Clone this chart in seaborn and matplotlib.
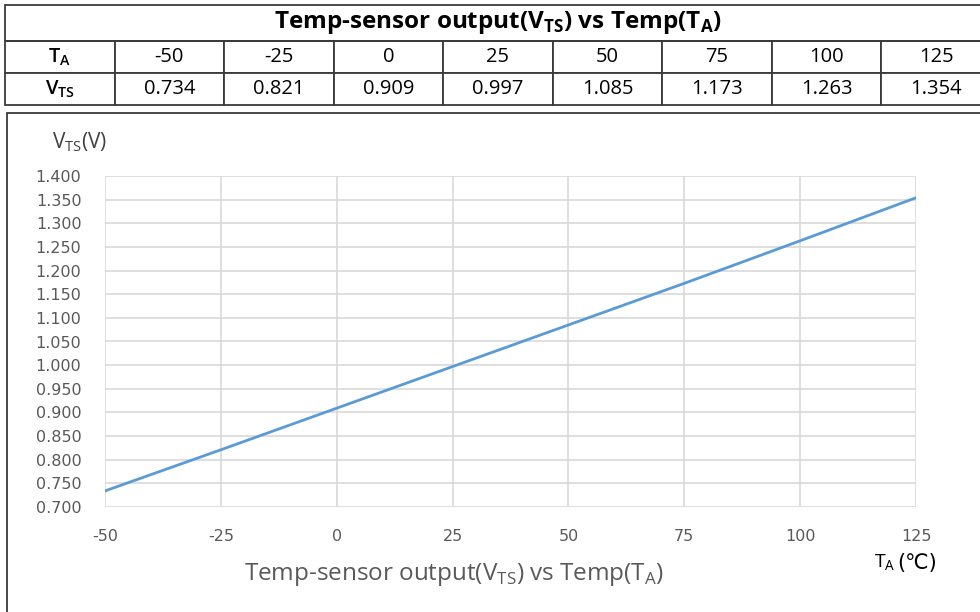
import matplotlib
matplotlib.use("Agg")
import matplotlib.pyplot as plt
from matplotlib.patches import Rectangle
import seaborn as sns

# ── Data ─────────────────────────────────────────────────────────────────────
temps = [-50, -25, 0, 25, 50, 75, 100, 125]
vts = [0.734, 0.821, 0.909, 0.997, 1.085, 1.173, 1.263, 1.354]
vts_labels = ["0.734", "0.821", "0.909", "0.997", "1.085", "1.173", "1.263", "1.354"]
y_ticks = [0.70, 0.75, 0.80, 0.85, 0.90, 0.95, 1.00, 1.05,
           1.10, 1.15, 1.20, 1.25, 1.30, 1.35, 1.40]

TITLE = r"Temp-sensor output(V$_\mathregular{TS}$) vs Temp(T$_\mathregular{A}$)"
LINE_COL = "#5B9BD5"
GRID_COL = "#D9D9D9"
TICK_COL = "#595959"
EDGE_COL = "#3a3a3a"

sns.set_theme(style="whitegrid")
plt.rcParams["font.family"] = ["Open Sans", "DejaVu Sans"]
plt.rcParams["axes.unicode_minus"] = False

W, H = 980, 612
fig = plt.figure(figsize=(W / 100, H / 100), dpi=100)
fig.patch.set_facecolor("white")

def fx(px):
    return px / W

def fy(py):
    return 1 - py / H

# ── Table at the top ─────────────────────────────────────────────────────────
tab_l, tab_r, tab_t, tab_b = 5, 991, 5, 105
ax_t = fig.add_axes([fx(tab_l), fy(tab_b), fx(tab_r - tab_l), (tab_b - tab_t) / H])
ax_t.set_axis_off()
ax_t.set_xlim(0, 1)
ax_t.set_ylim(0, 1)

title_frac = 36 / 100
ax_t.add_patch(Rectangle((0, 1 - title_frac), 1, title_frac, fill=False,
                         edgecolor=EDGE_COL, linewidth=1.3, clip_on=False))
ax_t.text(0.5, 1 - title_frac / 2, TITLE, ha="center", va="center",
          fontsize=17.5, fontweight="bold", color="black")

rows = [[r"T$_\mathregular{A}$"] + [str(t) for t in temps],
        [r"V$_\mathregular{TS}$"] + vts_labels]
tbl = ax_t.table(cellText=rows, cellLoc="center",
                 bbox=[0, 0, 1, 1 - title_frac])
tbl.auto_set_font_size(False)
tbl.set_fontsize(14.5)
for (r, c), cell in tbl.get_celld().items():
    cell.set_edgecolor(EDGE_COL)
    cell.set_linewidth(1.3)
    cell.set_text_props(color="black", fontweight="semibold" if c == 0 else "normal")
    cell.set_clip_on(False)
    cell.get_text().set_clip_on(False)

# ── Chart box ────────────────────────────────────────────────────────────────
fig.add_artist(Rectangle((fx(7), fy(617)), fx(990 - 7), (617 - 113) / H,
                         transform=fig.transFigure, fill=False,
                         edgecolor=EDGE_COL, linewidth=1.3))

# ── Line chart ───────────────────────────────────────────────────────────────
pl, pr, pt, pb = 105, 916, 176, 507
ax = fig.add_axes([fx(pl), fy(pb), fx(pr - pl), (pb - pt) / H])
sns.lineplot(x=temps, y=vts, ax=ax, color=LINE_COL, linewidth=2)

ax.set_xlim(-50, 125)
ax.set_ylim(0.7, 1.4)
ax.set_xticks(temps, labels=[str(t) for t in temps],
              fontfamily="DejaVu Sans", fontsize=11.5, color=TICK_COL)
ax.set_yticks(y_ticks, labels=[f"{v:.3f}" for v in y_ticks],
              fontfamily="DejaVu Sans", fontsize=11.5, color=TICK_COL)
ax.set_facecolor("white")
ax.grid(True, color=GRID_COL, linewidth=1.2)
for s in ax.spines.values():
    s.set_visible(False)
ax.tick_params(axis="y", length=0, pad=17)
ax.tick_params(axis="x", length=0, pad=16)

fig.text(fx(52), fy(142), r"V$_\mathregular{TS}$(V)", ha="left", va="center",
         fontsize=15, color="#404040")
fig.text(fx(454), fy(574), TITLE, ha="center", va="center",
         fontsize=17.5, color=TICK_COL)
fig.text(fx(896), fy(563), r"T$_\mathregular{A}$", ha="right", va="center",
         fontsize=14, color="black")
fig.text(fx(897), fy(563), "(℃)", ha="left", va="center",
         fontsize=15, color="black", family="DejaVu Sans")

fig.savefig("out.png", dpi=100, facecolor="white")
